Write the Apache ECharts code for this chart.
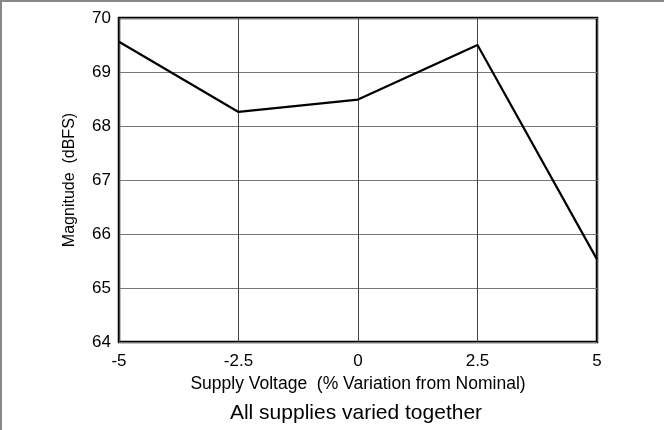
<!DOCTYPE html>
<html>
<head>
<meta charset="utf-8">
<script src="https://cdn.jsdelivr.net/npm/echarts@6/dist/echarts.min.js"></script>
<style>
  html, body { margin: 0; padding: 0; background: #fff; }
  #chart { width: 664px; height: 430px; }
</style>
</head>
<body>
<div id="chart"></div>
<script>
// supply voltage variation (%) vs magnitude (dBFS)
var supplyVar = [-5, -2.5, 0, 2.5, 5];
var magnitude = [69.56, 68.26, 68.49, 69.5, 65.53];
var xTicks = [-5, -2.5, 0, 2.5, 5];
var yTicks = [64, 65, 66, 67, 68, 69, 70];

var pts = supplyVar.map(function (v, i) { return [v, magnitude[i]]; });

var FONT = 'Liberation Sans, Arial, sans-serif';

var chart = echarts.init(document.getElementById('chart'), null, { renderer: 'canvas' });
chart.setOption({
    animation: false,
    backgroundColor: '#fff',
    grid: {
        left: 119, right: 67, top: 18, bottom: 88,
        show: true,
        borderColor: '#000',
        borderWidth: 2.5,
        backgroundColor: 'transparent'
    },
    xAxis: {
        type: 'value',
        min: xTicks[0], max: xTicks[xTicks.length - 1], interval: 2.5,
        name: 'Supply Voltage  (% Variation from Nominal)',
        nameLocation: 'middle',
        nameGap: 31,
        nameTextStyle: { color: '#000', fontSize: 17.5, fontFamily: FONT },
        axisLine: { show: false },
        axisTick: { show: false },
        axisLabel: { color: '#000', fontSize: 17, fontFamily: FONT, margin: 11 },
        splitLine: { show: true, lineStyle: { color: '#444', width: 1 } }
    },
    yAxis: {
        type: 'value',
        min: yTicks[0], max: yTicks[yTicks.length - 1], interval: 1,
        name: 'Magnitude  (dBFS)',
        nameLocation: 'middle',
        nameGap: 41,
        nameTextStyle: { color: '#000', fontSize: 16, fontFamily: FONT },
        axisLine: { show: false },
        axisTick: { show: false },
        axisLabel: { color: '#000', fontSize: 17, fontFamily: FONT, margin: 8 },
        splitLine: { show: true, lineStyle: { color: '#777', width: 1 } }
    },
    graphic: [
        { type: 'line', shape: { x1: 0, y1: 1, x2: 664, y2: 1 }, style: { stroke: '#888', lineWidth: 2 } },
        { type: 'line', shape: { x1: 1, y1: 0, x2: 1, y2: 430 }, style: { stroke: '#888', lineWidth: 2 } },
        {
            type: 'text', x: 356, y: 413,
            style: {
                text: 'All supplies varied together',
                fill: '#000', font: '21px ' + FONT,
                textAlign: 'center', textVerticalAlign: 'middle'
            }
        }
    ],
    series: [{
        type: 'line',
        data: pts,
        symbol: 'none',
        lineStyle: { color: '#000', width: 2.2 }
    }]
});
</script>
</body>
</html>
